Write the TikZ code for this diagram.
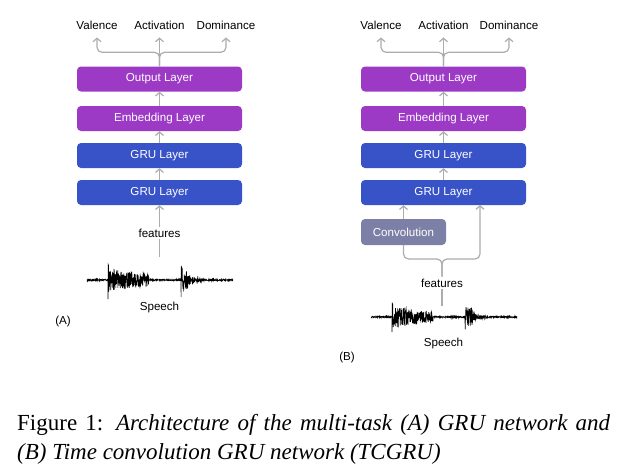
\documentclass[tikz,border=0pt]{standalone}
\usepackage{fontspec}
\setmainfont{Liberation Serif}
\newfontfamily\diafont{Liberation Sans}
\usetikzlibrary{arrows.meta}
\definecolor{outpurple}{RGB}{156,58,198}
\definecolor{grublue}{RGB}{56,82,200}
\definecolor{convgray}{RGB}{125,128,166}
\definecolor{linegray}{RGB}{172,172,172}
\tikzset{
	layer/.style={rounded corners=4pt, minimum width=165pt, minimum height=25pt, inner sep=0pt, text=white, font=\diafont\fontsize{11.6}{13}\selectfont},
	outlayer/.style={layer, fill=outpurple},
	grulayer/.style={layer, fill=grublue},
	convlayer/.style={layer, fill=convgray, minimum width=85pt, minimum height=26pt},
	lbl/.style={font=\diafont\fontsize{11.6}{13}\selectfont, inner sep=2pt},
	conn/.style={draw=linegray, line width=1.2pt},
	arr/.style={conn, -{Straight Barb[length=3.5pt,width=8pt]}},
	outarr/.style={arr, shorten >=6pt},
}
\def\speechwave(#1,#2){\draw[line width=0.6pt, shift={(#1,#2)}] plot[domain=0:146, samples=800] (\x, {env(\x)*rand});}

\begin{document}
\begin{tikzpicture}[x=1pt, y=-1pt,
		declare function={env(\t)=0.7
			+(\t>21)*(\t<62)*(9-5*max(\t-21,0)/41+9*exp(-max(\t-21,0))+2*sin(\t*50)^2)
			+(\t>94)*(\t<117)*(11*exp(-max(\t-94,0)/3)+7*exp(-abs(\t-100)/1.5)+6*exp(-max(\t-94,0)/9));}]
		\useasboundingbox (0,0) rectangle (618,474);
		%%%%% START %%%%%
		% (A) GRU network
		\node[outlayer] (outA) at (159.5,79) {Output Layer};
		\node[outlayer] (embA) at (159.5,118.5) {Embedding Layer};
		\node[grulayer] (gruA1) at (159.5,155.5) {GRU Layer};
		\node[grulayer] (gruA2) at (159.5,192.5) {GRU Layer};
		
		\node[lbl] (valA) at (97,25) {Valence};
		\node[lbl] (actA) at (159.5,25) {Activation};
		\node[lbl] (domA) at (226,25) {Dominance};
		
		\draw[outarr, rounded corners=5pt] (outA.north) -- ++(0,-14) -| (valA.south);
		\draw[outarr, rounded corners=5pt] (outA.north) -- ++(0,-14) -| (domA.south);
		\draw[outarr] (outA.north) -- (actA.south);
		\draw[arr] (embA.north) -- (outA.south);
		\draw[arr] (gruA1.north) -- (embA.south);
		\draw[arr] (gruA2.north) -- (gruA1.south);
		
		\node[lbl] (featA) at (159.5,233) {features};
		\coordinate (wavA) at (159.5,257);
		\draw[arr] (featA.north) -- (gruA2.south);
		\draw[conn] (wavA) -- (featA.south);
		
		\speechwave(87,280)
		\node[lbl] (spA) at (159.5,307) {Speech};
		\node[lbl] (tagA) at (63,321) {(A)};
		
		% (B) TCGRU network
		\node[outlayer] (outB) at (443.5,79) {Output Layer};
		\node[outlayer] (embB) at (443.5,118.5) {Embedding Layer};
		\node[grulayer] (gruB1) at (443.5,155.5) {GRU Layer};
		\node[grulayer] (gruB2) at (443.5,192.5) {GRU Layer};
		\node[convlayer] (convB) at (403.5,232) {Convolution};
		
		\node[lbl] (valB) at (381,25) {Valence};
		\node[lbl] (actB) at (443.5,25) {Activation};
		\node[lbl] (domB) at (509,25) {Dominance};
		
		\draw[outarr, rounded corners=5pt] (outB.north) -- ++(0,-14) -| (valB.south);
		\draw[outarr, rounded corners=5pt] (outB.north) -- ++(0,-14) -| (domB.south);
		\draw[outarr] (outB.north) -- (actB.south);
		\draw[arr] (embB.north) -- (outB.south);
		\draw[arr] (gruB1.north) -- (embB.south);
		\draw[arr] (gruB2.north) -- (gruB1.south);
		\draw[arr] (convB.north) -- (convB.north |- gruB2.south);
		
		\node[lbl] (featB) at (442,283) {features};
		\coordinate (wavB) at (442,306);
		\coordinate (splitB) at (442,259);
		\coordinate (skipB) at (480,205);
		\draw[conn, rounded corners=5pt] (featB.north) -- (splitB) -| (convB.south);
		\draw[arr, rounded corners=5pt] (featB.north) -- (splitB) -| (skipB);
		\draw[conn] (wavB) -- (featB.south);
		
		\speechwave(371,317)
		\node[lbl] (spB) at (443.5,343) {Speech};
		\node[lbl] (tagB) at (347,357) {(B)};
		
		% caption
		\node[anchor=north west, text width=593pt, align=justify, inner sep=0pt, font=\fontsize{23}{29}\selectfont] (cap) at (17,414)
			{Figure 1: \textit{Architecture of the multi-task (A) GRU network and\linebreak (B) Time convolution GRU network (TCGRU)}};
		%%%%% END %%%%%
	\end{tikzpicture}
\end{document}
